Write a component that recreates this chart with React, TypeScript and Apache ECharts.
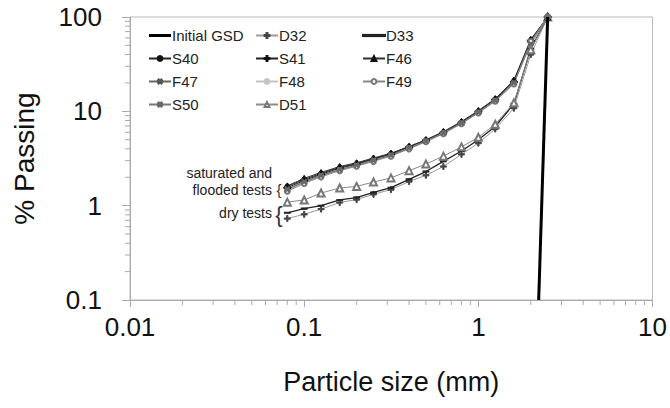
import React, { useEffect, useRef } from "react";
import * as echarts from "echarts";

// Sieve sizes (mm)
const sizes = [0.08, 0.1, 0.125, 0.16, 0.2, 0.25, 0.315, 0.4, 0.5, 0.63, 0.8, 1, 1.25, 1.6, 2, 2.5];

// Initial grain size distribution
const initialX = [2.22, 2.5];
const initialY = [0.1, 100];

// Saturated / flooded tests (% passing)
const S40 = [1.6, 1.9, 2.2, 2.55, 2.8, 3.15, 3.55, 4.2, 4.95, 6.0, 7.7, 10.0, 13.5, 21.0, 57, 100];
const S41 = [1.55, 1.85, 2.15, 2.5, 2.75, 3.1, 3.5, 4.15, 4.9, 5.95, 7.6, 9.9, 13.3, 20.5, 56, 100];
const F46 = [1.62, 1.95, 2.25, 2.6, 2.85, 3.2, 3.6, 4.25, 5.0, 6.1, 7.8, 10.2, 13.6, 21.5, 58, 100];
const F47 = [1.5, 1.8, 2.1, 2.42, 2.7, 3.05, 3.45, 4.1, 4.85, 5.9, 7.5, 9.8, 13.1, 20.0, 54, 100];
const F48 = [1.45, 1.75, 2.05, 2.38, 2.65, 3.0, 3.4, 4.05, 4.8, 5.85, 7.45, 9.7, 13.0, 19.8, 53, 100];
const F49 = [1.42, 1.72, 2.02, 2.35, 2.62, 2.95, 3.35, 4.0, 4.75, 5.8, 7.4, 9.6, 12.8, 19.5, 55, 100];
const S50 = [1.48, 1.78, 2.08, 2.4, 2.68, 3.02, 3.42, 4.08, 4.82, 5.88, 7.5, 9.75, 13.0, 20.0, 52, 100];

// Dry tests
const D32 = [0.73, 0.81, 0.92, 1.08, 1.16, 1.32, 1.48, 1.8, 2.1, 2.6, 3.5, 4.6, 6.5, 10.8, 40, 100];
const D33 = [0.84, 0.93, 1.0, 1.15, 1.22, 1.38, 1.55, 1.9, 2.3, 2.95, 3.8, 5.0, 6.9, 12.0, 46, 100];
const D51 = [1.09, 1.15, 1.36, 1.54, 1.6, 1.78, 1.97, 2.35, 2.76, 3.35, 4.2, 5.3, 7.3, 12.3, 45, 100];

// Axes
const xTicks = [0.01, 0.1, 1, 10];
const yTicks = [0.1, 1, 10, 100];
const xMinor = [0.02, 0.03, 0.04, 0.05, 0.06, 0.07, 0.08, 0.09, 0.2, 0.3, 0.4, 0.5, 0.6, 0.7, 0.8, 0.9, 2, 3, 4, 5, 6, 7, 8, 9];
const yMinor = [0.2, 0.3, 0.4, 0.5, 0.6, 0.7, 0.8, 0.9, 2, 3, 4, 5, 6, 7, 8, 9, 20, 30, 40, 50, 60, 70, 80, 90];

const legendCols: any[][] = [
  [{ name: "Initial GSD", icon: "path://M0,0h22v3h-22z", itemStyle: { color: "#000" } }, "S40", "F47", "S50"],
  ["D32", "S41", "F48", "D51"],
  [{ name: "D33", icon: "path://M0,0h22v1.2h-22z", itemStyle: { color: "#222" } }, "F46", "F49"],
];

const FONT = "'Liberation Sans', Arial, sans-serif";
const PLUS = "path://M4,0h2v4h4v2h-4v4h-2v-4h-4v-2h4z";
const DASH = "path://M0,0h10v2h-10z";

function fmt(v: number) {
  const t = [...xTicks, ...yTicks].find((k) => Math.abs(k - v) / k < 1e-6);
  return t !== undefined ? String(t) : "";
}

function line(name: string, vals: number[], color: string, symbol: string, symbolSize: any, symColor: string, extra: any = {}) {
  return {
    type: "line",
    name,
    data: sizes.map((s, i) => [s, vals[i]]),
    symbol,
    symbolSize,
    showSymbol: true,
    lineStyle: { color, width: 1 },
    itemStyle: { color: symColor, borderColor: symColor, borderWidth: 1 },
    ...extra,
  };
}

export default function App() {
  const ref = useRef<HTMLDivElement>(null);
  useEffect(() => {
    if (!ref.current) return;
    const chart = echarts.init(ref.current, undefined, { renderer: "svg" });
    const tickStyle = { color: "#aaa", width: 1 };
    const option: any = {
      animation: false,
      textStyle: { fontFamily: FONT },
      grid: { left: 130, right: 16, top: 17, bottom: 108, show: true, borderColor: "#bbb", borderWidth: 1 },
      legend: legendCols.map((col, i) => ({
        data: col,
        orient: "vertical",
        left: [148, 255, 362][i],
        top: 28,
        padding: 0,
        itemWidth: 22,
        itemHeight: 6,
        itemGap: 8,
        selectedMode: false,
        textStyle: { fontSize: 15, lineHeight: 14, color: "#222", fontFamily: FONT, padding: [0, 0, 0, -4] },
      })),
      xAxis: {
        type: "log",
        logBase: 10,
        min: xTicks[0],
        max: xTicks[xTicks.length - 1],
        axisLine: { lineStyle: tickStyle },
        axisTick: { show: true, length: 7, lineStyle: tickStyle },
        splitLine: { show: false },
        axisLabel: { fontSize: 26, color: "#111", margin: 14, formatter: fmt, fontFamily: FONT },
        name: "Particle size (mm)",
        nameLocation: "middle",
        nameGap: 68,
        nameTextStyle: { fontSize: 27, color: "#111", fontFamily: FONT },
      },
      yAxis: {
        type: "log",
        logBase: 10,
        min: yTicks[0],
        max: yTicks[yTicks.length - 1],
        axisLine: { show: true, lineStyle: tickStyle },
        axisTick: { show: true, length: 8, lineStyle: tickStyle },
        splitLine: { show: false },
        axisLabel: { fontSize: 26, color: "#111", margin: 28, formatter: fmt, fontFamily: FONT },
        name: "% Passing",
        nameLocation: "middle",
        nameGap: 92,
        nameTextStyle: { fontSize: 28, color: "#111", fontFamily: FONT },
      },
      series: [
        {
          type: "custom",
          silent: true,
          data: xMinor.map((v) => [v, yTicks[0]]),
          renderItem: (_p: any, api: any) => {
            const p = api.coord([api.value(0), api.value(1)]);
            return { type: "line", shape: { x1: p[0], y1: p[1], x2: p[0], y2: p[1] + 5 }, style: { stroke: "#aaa", lineWidth: 1 } };
          },
        },
        {
          type: "custom",
          silent: true,
          data: yMinor.map((v) => [xTicks[0], v]),
          renderItem: (_p: any, api: any) => {
            const p = api.coord([api.value(0), api.value(1)]);
            return { type: "line", shape: { x1: p[0] - 5, y1: p[1], x2: p[0], y2: p[1] }, style: { stroke: "#aaa", lineWidth: 1 } };
          },
        },
        line("D32", D32, "#9a9a9a", PLUS, 6, "#444"),
        line("D33", D33, "#222", DASH, [5, 1.5], "#222", { lineStyle: { color: "#222", width: 1.3 } }),
        line("D51", D51, "#8a8a8a", "emptyTriangle", 7, "#777"),
        line("S40", S40, "#222", "circle", 5, "#111"),
        line("S41", S41, "#222", PLUS, 7, "#111"),
        line("F46", F46, "#333", "triangle", 6, "#111"),
        line("F47", F47, "#666", PLUS, 6, "#555", { symbolRotate: 45 }),
        line("F48", F48, "#c4c4c4", "circle", 4, "#c4c4c4"),
        line("F49", F49, "#888", "emptyCircle", 5, "#777"),
        line("S50", S50, "#777", PLUS, 5, "#666", { symbolRotate: 45 }),
        {
          type: "line",
          name: "Initial GSD",
          data: initialX.map((x, i) => [x, initialY[i]]),
          symbol: "none",
          lineStyle: { color: "#000", width: 3 },
          itemStyle: { color: "#000" },
          z: 5,
        },
      ],
      graphic: [
        { type: "text", x: 272, y: 173, style: { text: "saturated and", align: "right", verticalAlign: "middle", font: `14px ${FONT}`, fill: "#222" } },
        { type: "text", x: 272, y: 190, style: { text: "flooded tests", align: "right", verticalAlign: "middle", font: `14px ${FONT}`, fill: "#222" } },
        { type: "text", x: 272, y: 213, style: { text: "dry tests", align: "right", verticalAlign: "middle", font: `14px ${FONT}`, fill: "#222" } },
        { type: "text", x: 279, y: 189, style: { text: "{", align: "center", verticalAlign: "middle", font: `15px ${FONT}`, fill: "#333" } },
        { type: "text", x: 279, y: 214, style: { text: "{", align: "center", verticalAlign: "middle", font: `22px ${FONT}`, fill: "#333" } },
      ],
    };
    chart.setOption(option);
    return () => chart.dispose();
  }, []);
  return <div ref={ref} style={{ position: "fixed", left: 0, top: 0, width: 670, height: 408, background: "#fff" }} />;
}
